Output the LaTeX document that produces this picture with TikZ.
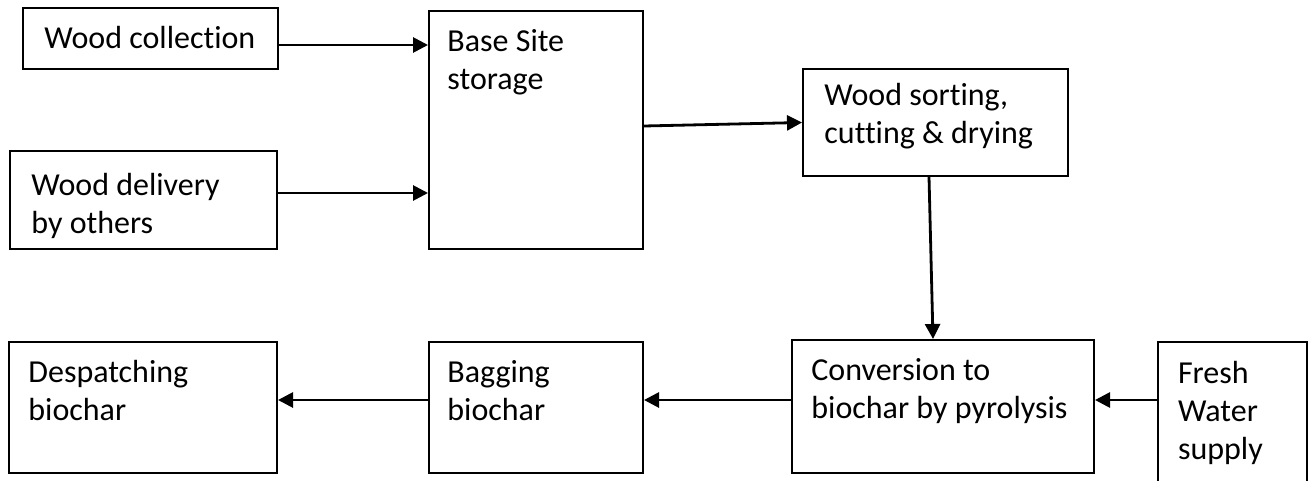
\documentclass[tikz,border=0pt]{standalone}
\usepackage{fontspec}
\setmainfont[Ligatures=NoCommon]{Carlito}
\usetikzlibrary{fit,arrows.meta}

\tikzset{
  boxline/.style={draw=black, line width=1pt},
  box/.style={boxline, rectangle, inner sep=0pt},
  frame/.style={rectangle, inner sep=0pt},
  txt/.style={anchor=north west, inner sep=0pt, align=left,
              font=\fontsize{16}{19}\selectfont},
  arr/.style={line width=1.4pt, -{Triangle[length=7.5pt,width=7.5pt]}}
}

\begin{document}
\begin{tikzpicture}[x=0.5pt, y=-0.5pt]
  \useasboundingbox (0,0) rectangle (1315,481);

  % process boxes
  \node[box, fit={(23,8) (278,69)}]      (wc)   {};
  \node[box, fit={(10,151) (277,249)}]   (wd)   {};
  \node[box, fit={(429,11) (643,249)}]   (bs)   {};
  \node[box, fit={(803,69) (1068,176)}]  (ws)   {};
  \node[box, fit={(792,340) (1094,473)}] (conv) {};
  \node[box, fit={(429,342) (643,473)}]  (bag)  {};
  \node[box, fit={(9,342) (277,473)}]    (desp) {};
  \node[frame, fit={(1158,342) (1307,481)}] (fw) {};
  \draw[boxline] (fw.south west) -- (fw.north west) -- (fw.north east) -- (fw.south east);

  % labels
  \node[txt] (wct)   at ([shift={(22,15)}]wc.north west)   {\strut Wood collection};
  \node[txt] (wdt)   at ([shift={(22,18)}]wd.north west)     {\strut Wood delivery\\by others};
  \node[txt] (bst)   at ([shift={(19,14.4)}]bs.north west)   {\strut Base Site\\storage};
  \node[txt] (wst)   at ([shift={(22,10)}]ws.north west)     {\strut Wood sorting,\\cutting \& drying};
  \node[txt] (convt) at ([shift={(20,14.4)}]conv.north west) {\strut Conversion to\\biochar by pyrolysis};
  \node[txt] (bagt)  at ([shift={(19,14.4)}]bag.north west)  {\strut Bagging\\biochar};
  \node[txt] (despt) at ([shift={(20,14.4)}]desp.north west) {\strut Despatching\\biochar};
  \node[txt] (fwt)   at ([shift={(20,14.4)}]fw.north west)   {\strut Fresh\\Water\\supply};

  % flows
  \coordinate (c1) at ([yshift=-3.25pt]wc.east);
  \draw[arr] (c1) -- (c1 -| bs.west);
  \coordinate (c2) at ([yshift=3.5pt]wd.east);
  \draw[arr] (c2) -- (c2 -| bs.west);
  \draw[arr] ([yshift=2pt]bs.east) -- (ws.west);
  \draw[arr] ([xshift=-3.25pt]ws.south) -- ([xshift=-5pt]conv.north);
  \coordinate (c3) at ([yshift=3.25pt]conv.west);
  \draw[arr] (c3 -| fw.west) -- (c3 -| conv.east);
  \draw[arr] (c3) -- (c3 -| bag.east);
  \draw[arr] (c3 -| bag.west) -- (c3 -| desp.east);
\end{tikzpicture}
\end{document}
